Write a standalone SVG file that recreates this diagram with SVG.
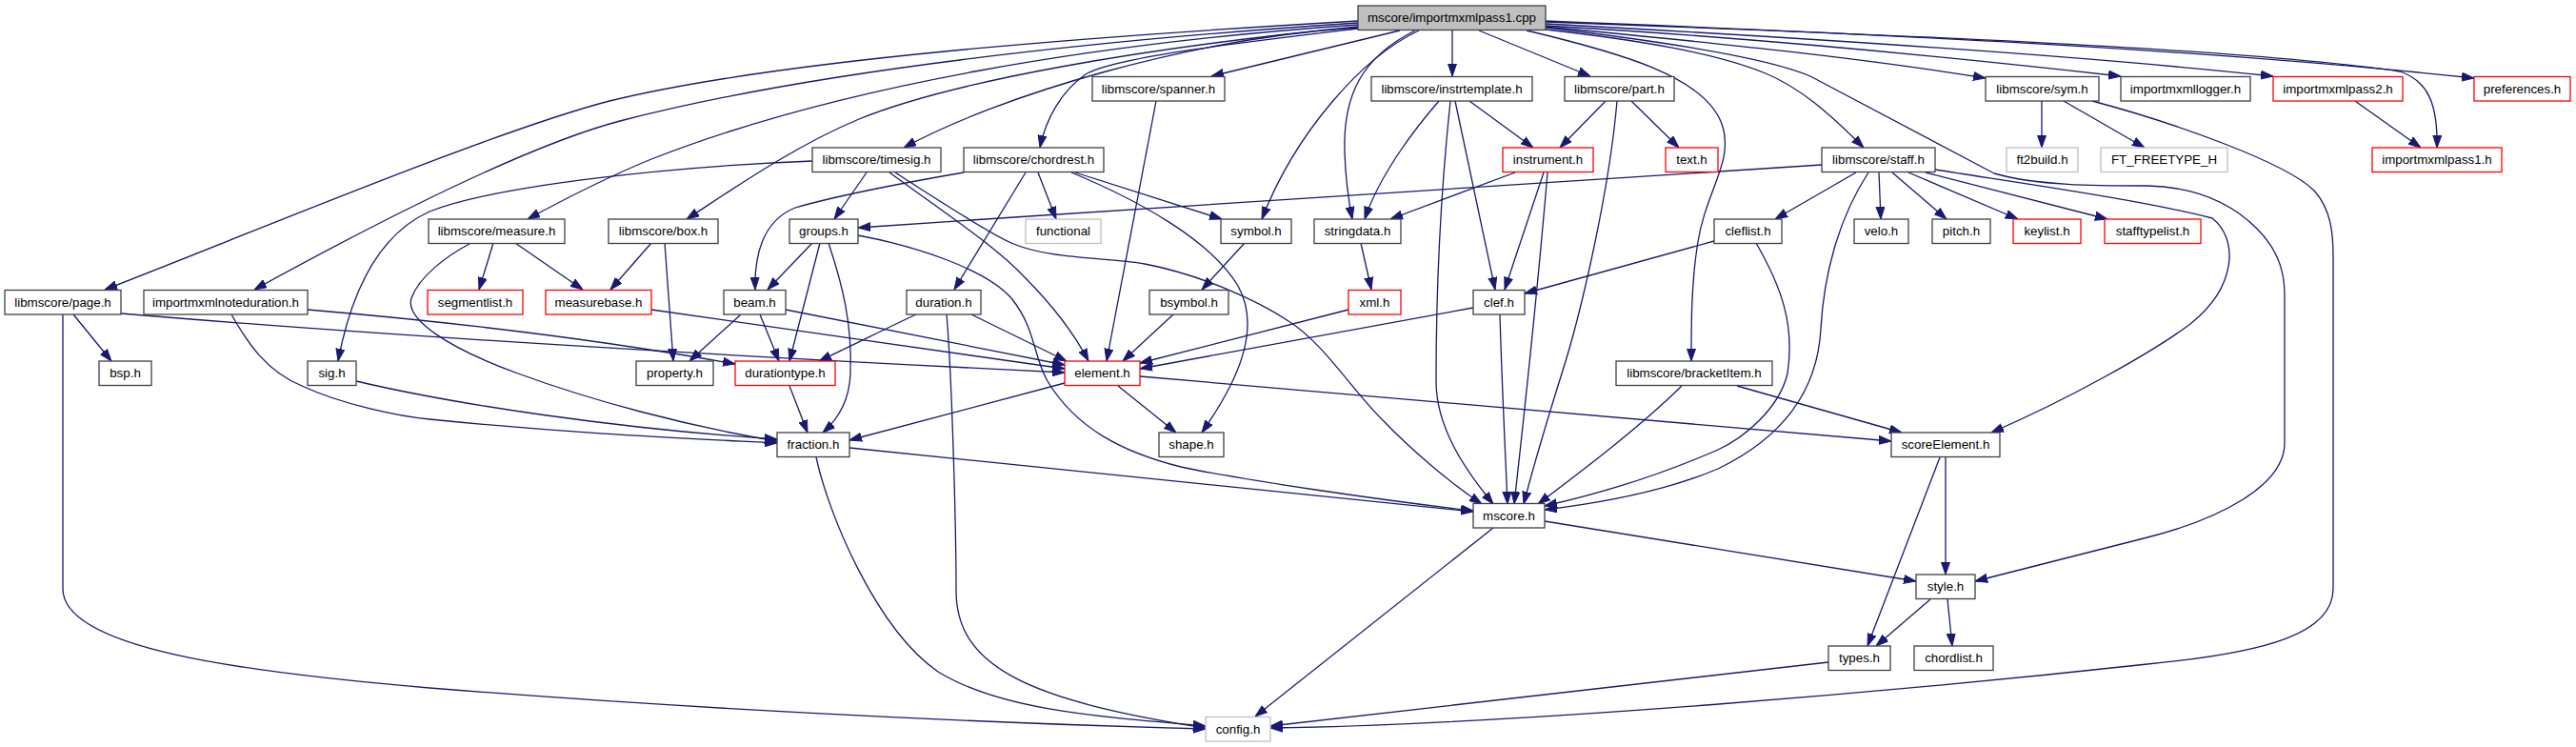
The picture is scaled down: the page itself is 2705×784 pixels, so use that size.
<svg xmlns="http://www.w3.org/2000/svg" width="2705" height="784" viewBox="0 0 2705 784">
<style>
.n rect{fill:#fff;stroke:#404040;stroke-width:1.3}
.n.r rect{stroke:#ff0000}
.n.g rect{stroke:#bfbfbf}
.n text{font-family:"Liberation Sans",Arial,Helvetica,sans-serif;font-size:13.33px;text-anchor:middle;fill:#000}
#edges path{fill:none;stroke:#191970;stroke-width:1.3;marker-end:url(#a)}
</style>
<defs>
<marker id="a" markerUnits="userSpaceOnUse" markerWidth="13" markerHeight="10" viewBox="0 0 13 10" refX="13" refY="5" orient="auto"><path d="M0,0.5 L13,5 L0,9.5z" fill="#191970" stroke="#191970" stroke-width="1"/></marker>
</defs>
<rect width="2705" height="784" fill="#fff"/>
<g id="edges">
<path d="M1426,22 C1150,38 820,62 640,106 C520,137 260,246 110,304"/>
<path d="M1426,24 C1150,42 850,75 651,127 C560,151 420,220 267,304"/>
<path d="M1426,26 C1150,45 880,90 684,167 C640,185 600,205 554,230"/>
<path d="M1426,28 C1200,50 1000,85 902,125 C830,155 760,205 721,230"/>
<path d="M1426,29 C1250,40 1050,100 949,155"/>
<path d="M1426,30 C1300,45 1170,60 1140,78 C1115,95 1098,125 1092,155"/>
<path d="M1470,32 L1272,80"/>
<path d="M1490,32 C1430,60 1360,140 1325,230"/>
<path d="M1486,32 C1430,60 1410,100 1412,160 C1413,190 1416,210 1420,230"/>
<path d="M1525,32 L1525,80"/>
<path d="M1553,32 L1670,80"/>
<path d="M1603,32 C1700,55 1790,80 1808,130 C1822,170 1790,200 1782,260 C1776,300 1776,340 1776,379"/>
<path d="M1623,31 C1720,42 1800,55 1854,77 C1890,92 1920,118 1957,155"/>
<path d="M1623,28 C1800,45 1950,60 2085,82"/>
<path d="M1623,27 C1850,40 2050,60 2227,80"/>
<path d="M1623,25 C1900,40 2200,60 2387,80"/>
<path d="M1623,22 C1950,35 2300,50 2598,82"/>
<path d="M1623,23 C1950,35 2350,50 2520,75 C2550,85 2560,110 2559,155"/>
<path d="M1623,29 C1760,45 1860,62 1901,80 L2094,182 C2140,195 2200,195 2255,195 C2300,196 2340,210 2370,240 C2395,265 2399,290 2399,310 L2399,465 C2399,510 2330,545 2255,564 L2074,610"/>
<path d="M2197,106 C2280,128 2400,170 2430,200 C2448,220 2450,245 2450,270 L2450,618 C2450,665 2380,685 2255,697 C2000,725 1600,760 1334,764"/>
<path d="M2032,178 C2120,192 2250,210 2323,229 C2350,250 2350,300 2300,340 C2260,370 2170,420 2091,454"/>
<path d="M1913,173 C1750,183 1300,212 901,239"/>
<path d="M1949,181 L1864,230"/>
<path d="M1973,181 L1975,230"/>
<path d="M1987,181 L2044,230"/>
<path d="M2004,181 L2119,230"/>
<path d="M2022,181 L2213,230"/>
<path d="M1962,181 C1930,230 1915,290 1912,345 C1908,420 1860,465 1804,492 C1750,515 1680,528 1622,535"/>
<path d="M1844,255 C1870,300 1885,340 1877,392 C1868,430 1830,460 1804,472 C1740,500 1680,518 1622,531"/>
<path d="M1800,253 L1601,308"/>
<path d="M1511,106 C1490,130 1450,180 1433,230"/>
<path d="M1523,106 C1513,200 1508,300 1508,400 C1508,450 1540,495 1568,529"/>
<path d="M1528,106 L1570,304"/>
<path d="M1543,106 L1610,155"/>
<path d="M1686,106 L1638,155"/>
<path d="M1713,106 L1763,155"/>
<path d="M1698,106 C1690,200 1660,330 1640,392 C1625,440 1610,490 1600,529"/>
<path d="M1591,181 L1460,230"/>
<path d="M1621,181 L1580,304"/>
<path d="M1625,181 C1615,300 1600,440 1590,529"/>
<path d="M2144,106 L2144,155"/>
<path d="M2167,106 L2252,155"/>
<path d="M2473,106 L2542,155"/>
<path d="M1214,106 L1162,379"/>
<path d="M853,169 C700,175 520,195 451,222 C400,245 370,300 355,379"/>
<path d="M910,181 L876,230"/>
<path d="M934,181 C990,222 1045,258 1075,290 C1105,320 1128,350 1143,379"/>
<path d="M940,181 C1000,220 1040,245 1062,255 C1100,272 1160,270 1202,277 C1260,288 1320,315 1353,337 C1390,360 1420,410 1453,442 C1480,470 1520,505 1556,529"/>
<path d="M1012,181 C960,190 880,205 835,218 C800,232 792,270 793,304"/>
<path d="M1090,181 L1109,230"/>
<path d="M1077,181 L1002,304"/>
<path d="M1129,181 L1283,230"/>
<path d="M1125,181 C1190,208 1270,250 1300,300 C1325,345 1300,400 1262,454"/>
<path d="M518,255 L503,304"/>
<path d="M541,255 L612,304"/>
<path d="M493,256 C470,268 440,290 432,313 C425,335 470,365 544,392 C620,420 720,447 816,463"/>
<path d="M684,255 L641,304"/>
<path d="M698,255 L707,379"/>
<path d="M853,255 L806,304"/>
<path d="M861,255 L829,379"/>
<path d="M870,255 C885,300 895,340 893,392 C892,420 880,440 864,454"/>
<path d="M901,247 C960,258 1035,282 1062,313 C1088,345 1085,375 1100,400 C1130,450 1180,475 1240,490 C1300,503 1450,525 1547,536"/>
<path d="M1307,255 L1262,304"/>
<path d="M1429,255 L1440,304"/>
<path d="M1824,405 L1997,454"/>
<path d="M1766,405 C1720,450 1660,495 1615,529"/>
<path d="M1416,325 L1197,381"/>
<path d="M1547,323 L1197,387"/>
<path d="M1575,330 C1577,400 1580,460 1583,529"/>
<path d="M1232,330 L1179,379"/>
<path d="M962,330 C930,345 900,360 860,379"/>
<path d="M1020,330 L1120,379"/>
<path d="M994,330 C1000,400 1004,560 1004,620 C1004,700 1080,735 1266,764"/>
<path d="M778,330 L724,379"/>
<path d="M798,330 L818,379"/>
<path d="M825,325 C900,340 1000,360 1118,383"/>
<path d="M684,325 C800,342 1000,370 1118,387"/>
<path d="M323,325 C500,340 650,360 772,382"/>
<path d="M243,330 C260,360 280,390 317,405 C360,425 420,437 451,440 C600,455 720,460 816,465"/>
<path d="M77,330 L117,379"/>
<path d="M127,329 C400,352 750,373 1118,391"/>
<path d="M66,330 L66,618 C66,680 250,705 451,722 C700,742 1000,758 1266,765"/>
<path d="M374,400 C480,425 650,450 816,461"/>
<path d="M1174,405 L1235,454"/>
<path d="M1118,402 L892,462"/>
<path d="M1197,395 L1986,463"/>
<path d="M829,405 L848,454"/>
<path d="M892,470 L1547,537"/>
<path d="M857,480 C870,540 920,660 985,705 C1050,745 1150,752 1266,762"/>
<path d="M2043,480 L2043,603"/>
<path d="M2037,480 L1961,678"/>
<path d="M1622,547 L2012,610"/>
<path d="M1568,554 L1318,752"/>
<path d="M2027,629 L1970,678"/>
<path d="M2045,629 L2050,678"/>
<path d="M1920,695 L1334,762"/>
</g>
<g id="n_root" class="n"><rect x="1426" y="6" width="197" height="25.5" style="fill:#bfbfbf"/><text x="1524.5" y="23">mscore/importmxmlpass1.cpp</text></g>
<g id="n_spanner" class="n"><rect x="1147" y="80.5" width="139" height="25.5"/><text x="1216.5" y="97.5">libmscore/spanner.h</text></g>
<g id="n_instrtemplate" class="n"><rect x="1440" y="80.5" width="169" height="25.5"/><text x="1524.5" y="97.5">libmscore/instrtemplate.h</text></g>
<g id="n_part" class="n"><rect x="1643" y="80.5" width="115" height="25.5"/><text x="1700.5" y="97.5">libmscore/part.h</text></g>
<g id="n_sym" class="n"><rect x="2085" y="80.5" width="119" height="25.5"/><text x="2144.5" y="97.5">libmscore/sym.h</text></g>
<g id="n_logger" class="n"><rect x="2227" y="80.5" width="136" height="25.5"/><text x="2295" y="97.5">importmxmllogger.h</text></g>
<g id="n_pass2" class="n r"><rect x="2387" y="80.5" width="136" height="25.5"/><text x="2455" y="97.5">importmxmlpass2.h</text></g>
<g id="n_preferences" class="n r"><rect x="2598" y="80.5" width="101" height="25.5"/><text x="2648.5" y="97.5">preferences.h</text></g>
<g id="n_timesig" class="n"><rect x="853" y="155" width="135" height="25.5"/><text x="920.5" y="172">libmscore/timesig.h</text></g>
<g id="n_chordrest" class="n"><rect x="1012" y="155" width="147" height="25.5"/><text x="1085.5" y="172">libmscore/chordrest.h</text></g>
<g id="n_instrument" class="n r"><rect x="1578" y="155" width="95" height="25.5"/><text x="1625.5" y="172">instrument.h</text></g>
<g id="n_text" class="n r"><rect x="1749" y="155" width="55" height="25.5"/><text x="1776.5" y="172">text.h</text></g>
<g id="n_staff" class="n"><rect x="1913" y="155" width="119" height="25.5"/><text x="1972.5" y="172">libmscore/staff.h</text></g>
<g id="n_ft2build" class="n g"><rect x="2107" y="155" width="75" height="25.5"/><text x="2144.5" y="172">ft2build.h</text></g>
<g id="n_ftfreetype" class="n g"><rect x="2206" y="155" width="133" height="25.5"/><text x="2272.5" y="172">FT_FREETYPE_H</text></g>
<g id="n_pass1" class="n r"><rect x="2491" y="155" width="136" height="25.5"/><text x="2559" y="172">importmxmlpass1.h</text></g>
<g id="n_measure" class="n"><rect x="450" y="230" width="143" height="25.5"/><text x="521.5" y="247">libmscore/measure.h</text></g>
<g id="n_box" class="n"><rect x="639" y="230" width="115" height="25.5"/><text x="696.5" y="247">libmscore/box.h</text></g>
<g id="n_groups" class="n"><rect x="829" y="230" width="72" height="25.5"/><text x="865" y="247">groups.h</text></g>
<g id="n_functional" class="n g"><rect x="1077" y="230" width="79" height="25.5"/><text x="1116.5" y="247">functional</text></g>
<g id="n_symbol" class="n"><rect x="1282" y="230" width="74" height="25.5"/><text x="1319" y="247">symbol.h</text></g>
<g id="n_stringdata" class="n"><rect x="1380" y="230" width="91" height="25.5"/><text x="1425.5" y="247">stringdata.h</text></g>
<g id="n_cleflist" class="n"><rect x="1800" y="230" width="71" height="25.5"/><text x="1835.5" y="247">cleflist.h</text></g>
<g id="n_velo" class="n"><rect x="1947" y="230" width="57" height="25.5"/><text x="1975.5" y="247">velo.h</text></g>
<g id="n_pitch" class="n"><rect x="2029" y="230" width="61" height="25.5"/><text x="2059.5" y="247">pitch.h</text></g>
<g id="n_keylist" class="n r"><rect x="2114" y="230" width="71" height="25.5"/><text x="2149.5" y="247">keylist.h</text></g>
<g id="n_stafftypelist" class="n r"><rect x="2210" y="230" width="101" height="25.5"/><text x="2260.5" y="247">stafftypelist.h</text></g>
<g id="n_page" class="n"><rect x="5" y="304.5" width="122" height="25.5"/><text x="66" y="321.5">libmscore/page.h</text></g>
<g id="n_noteduration" class="n"><rect x="151" y="304.5" width="172" height="25.5"/><text x="237" y="321.5">importmxmlnoteduration.h</text></g>
<g id="n_segmentlist" class="n r"><rect x="449" y="304.5" width="100" height="25.5"/><text x="499" y="321.5">segmentlist.h</text></g>
<g id="n_measurebase" class="n r"><rect x="573" y="304.5" width="111" height="25.5"/><text x="628.5" y="321.5">measurebase.h</text></g>
<g id="n_beam" class="n"><rect x="760" y="304.5" width="65" height="25.5"/><text x="792.5" y="321.5">beam.h</text></g>
<g id="n_duration" class="n"><rect x="952" y="304.5" width="78" height="25.5"/><text x="991" y="321.5">duration.h</text></g>
<g id="n_bsymbol" class="n"><rect x="1207" y="304.5" width="83" height="25.5"/><text x="1248.5" y="321.5">bsymbol.h</text></g>
<g id="n_xml" class="n r"><rect x="1416" y="304.5" width="55" height="25.5"/><text x="1443.5" y="321.5">xml.h</text></g>
<g id="n_clef" class="n"><rect x="1547" y="304.5" width="54" height="25.5"/><text x="1574" y="321.5">clef.h</text></g>
<g id="n_bsp" class="n"><rect x="104" y="379" width="55" height="25.5"/><text x="131.5" y="396">bsp.h</text></g>
<g id="n_sig" class="n"><rect x="323" y="379" width="51" height="25.5"/><text x="348.5" y="396">sig.h</text></g>
<g id="n_property" class="n"><rect x="668" y="379" width="81" height="25.5"/><text x="708.5" y="396">property.h</text></g>
<g id="n_durationtype" class="n r"><rect x="772" y="379" width="105" height="25.5"/><text x="824.5" y="396">durationtype.h</text></g>
<g id="n_element" class="n r"><rect x="1118" y="379" width="79" height="25.5"/><text x="1157.5" y="396">element.h</text></g>
<g id="n_bracketitem" class="n"><rect x="1697" y="379" width="164" height="25.5"/><text x="1779" y="396">libmscore/bracketItem.h</text></g>
<g id="n_fraction" class="n"><rect x="816" y="454" width="76" height="25.5"/><text x="854" y="471">fraction.h</text></g>
<g id="n_shape" class="n"><rect x="1217" y="454" width="68" height="25.5"/><text x="1251" y="471">shape.h</text></g>
<g id="n_scoreelement" class="n"><rect x="1986" y="454" width="114" height="25.5"/><text x="2043" y="471">scoreElement.h</text></g>
<g id="n_mscore" class="n"><rect x="1547" y="528.5" width="75" height="25.5"/><text x="1584.5" y="545.5">mscore.h</text></g>
<g id="n_style" class="n"><rect x="2012" y="603" width="62" height="25.5"/><text x="2043" y="620">style.h</text></g>
<g id="n_types" class="n"><rect x="1920" y="678" width="65" height="25.5"/><text x="1952.5" y="695">types.h</text></g>
<g id="n_chordlist" class="n"><rect x="2010" y="678" width="83" height="25.5"/><text x="2051.5" y="695">chordlist.h</text></g>
<g id="n_config" class="n g"><rect x="1266" y="752.5" width="68" height="25.5"/><text x="1300" y="769.5">config.h</text></g>
</svg>
